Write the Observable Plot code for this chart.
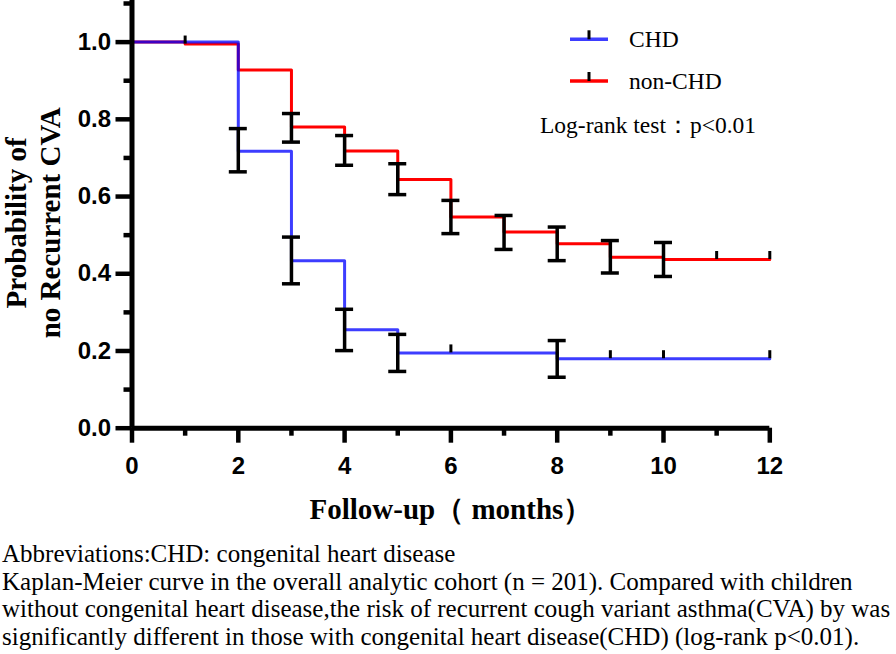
<!DOCTYPE html>
<html>
<head>
<meta charset="utf-8">
<script src="https://cdn.jsdelivr.net/npm/d3@7"></script>
<script src="https://cdn.jsdelivr.net/npm/@observablehq/plot@0.6"></script>
<style>
  body { margin: 0; background: #fff; }
  #wrap { position: relative; width: 896px; height: 654px; overflow: hidden; background: #fff; }
  #legend { position: absolute; left: 0; top: 0; }
  #caption { font-family: "Liberation Serif", "Times New Roman", serif; font-size: 25px; line-height: 27.5px; white-space: nowrap; padding-left: 2px; color: #000; }
</style>
</head>
<body>
<div id="wrap">
  <div id="chart"></div>
  <svg id="legend" width="896" height="150"></svg>
  <div id="caption"></div>
</div>
<script>
// ---------- data ----------
const seriesNames = ["CHD", "non-CHD"];
const seriesColors = ["#0000ff", "#ff0000"];
const seriesOpacity = [0.76, 1];

const chdTime = [0, 2, 3, 4, 5, 8, 12];
const chdSurv = [1.0, 0.717, 0.434, 0.255, 0.195, 0.180, 0.180];
const nonTime = [0, 1, 2, 3, 4, 5, 6, 7, 8, 9, 10, 12];
const nonSurv = [1.0, 0.995, 0.928, 0.780, 0.718, 0.644, 0.547, 0.508, 0.478, 0.443, 0.437, 0.437];

const chdErrTime = [2, 3, 4, 5, 8];
const chdErrLow  = [0.664, 0.374, 0.201, 0.147, 0.132];
const chdErrHigh = [0.776, 0.495, 0.308, 0.243, 0.227];
const nonErrTime = [3, 4, 5, 6, 7, 8, 9, 10];
const nonErrLow  = [0.741, 0.681, 0.605, 0.504, 0.463, 0.434, 0.402, 0.393];
const nonErrHigh = [0.815, 0.758, 0.685, 0.590, 0.551, 0.521, 0.486, 0.481];

const chdCensor = [6, 9, 10, 12];
const nonCensor = [1, 11, 12];

const xMajorTicks = [0, 2, 4, 6, 8, 10, 12];
const xMinorTicks = [1, 3, 5, 7, 9, 11];
const yMajorTicks = [0, 0.2, 0.4, 0.6, 0.8, 1.0];
const yMinorTicks = [0.1, 0.3, 0.5, 0.7, 0.9, 1.1];

const xTitle = "Follow-up（ months）";
const yTitle = "Probability of\nno Recurrent CVA";
const testText = "Log-rank test：p<0.01";
const captionLines = [
  "Abbreviations:CHD: congenital heart disease",
  "Kaplan-Meier curve in the overall analytic cohort (n = 201). Compared with children",
  "without congenital heart disease,the risk of recurrent cough variant asthma(CVA) by was",
  "significantly different in those with congenital heart disease(CHD) (log-rank p<0.01)."
];

// ---------- build tables ----------
const stepRows = (T, S) => T.map((t, i) => ({t, s: S[i]}));
const errRows = (T, L, H) => T.map((t, i) => ({t, lo: L[i], hi: H[i]}));
const survAt = (T, S, t) => S[Math.max(0, d3.bisectRight(T, t) - 1)];
const censorRows = (C, T, S) => C.map(t => ({t, s: survAt(T, S, t)}));

const chdRows = stepRows(chdTime, chdSurv);
const nonRows = stepRows(nonTime, nonSurv);
const errs = [...errRows(nonErrTime, nonErrLow, nonErrHigh), ...errRows(chdErrTime, chdErrLow, chdErrHigh)];
const censors = [...censorRows(nonCensor, nonTime, nonSurv), ...censorRows(chdCensor, chdTime, chdSurv)];

const sansBold = {fontFamily: "Liberation Sans, Arial, sans-serif", fontWeight: "bold", fontSize: 24};
const serifBold = {fontFamily: "Liberation Serif, Times New Roman, serif", fontWeight: "bold", fontSize: 29};
const ink = {stroke: "black", strokeWidth: 4.5};

const chart = Plot.plot({
  width: 896,
  height: 540,
  marginLeft: 131.5,
  marginRight: 126.7,
  marginTop: 3,
  marginBottom: 112.3,
  x: {domain: [0, 12]},
  y: {domain: [0, 1.1]},
  style: {background: "white", overflow: "visible", color: "black"},
  marks: [
    Plot.line(nonRows, {x: "t", y: "s", curve: "step-after", stroke: seriesColors[1], strokeOpacity: seriesOpacity[1], strokeWidth: 3}),
    Plot.line(chdRows, {x: "t", y: "s", curve: "step-after", stroke: seriesColors[0], strokeOpacity: seriesOpacity[0], strokeWidth: 3}),
    Plot.ruleX(errs, {x: "t", y1: "lo", y2: "hi", stroke: "black", strokeWidth: 3.5}),
    Plot.ruleY(errs, {y: "lo", x1: "t", x2: "t", insetLeft: -9, insetRight: -9, stroke: "black", strokeWidth: 3.5}),
    Plot.ruleY(errs, {y: "hi", x1: "t", x2: "t", insetLeft: -9, insetRight: -9, stroke: "black", strokeWidth: 3.5}),
    Plot.ruleX(censors, {x: "t", y1: "s", y2: "s", insetTop: -8, stroke: "black", strokeWidth: 3}),
    // axis lines
    Plot.ruleX([0], {stroke: "black", strokeWidth: 5, insetTop: -3}),
    Plot.ruleY([0], {stroke: "black", strokeWidth: 5}),
    // tick marks (major and minor)
    Plot.ruleX(xMajorTicks, {x: d => d, y1: 0, y2: 0, insetBottom: -15, ...ink}),
    Plot.ruleX(xMinorTicks, {x: d => d, y1: 0, y2: 0, insetBottom: -8, ...ink}),
    Plot.ruleY(yMajorTicks, {y: d => d, x1: 0, x2: 0, insetLeft: -16, ...ink}),
    Plot.ruleY(yMinorTicks, {y: d => d, x1: 0, x2: 0, insetLeft: -8, ...ink}),
    // tick labels
    Plot.axisX({ticks: xMajorTicks, tickSize: 0, tickPadding: 29, label: null, tickFormat: d => String(d), ...sansBold}),
    Plot.axisY({ticks: yMajorTicks, tickSize: 0, tickPadding: 21, label: null, tickFormat: d3.format(".1f"), ...sansBold}),
    // axis titles
    Plot.text([xTitle], {text: d => d, frameAnchor: "bottom", lineAnchor: "bottom", dy: 91, fill: "black", ...serifBold}),
    Plot.text([yTitle], {text: d => d, frameAnchor: "left", rotate: -90, lineAnchor: "top", lineHeight: 1.14, dx: -129, dy: 7, textAnchor: "middle", fill: "black", ...serifBold})
  ]
});
document.getElementById("chart").appendChild(chart);

// ---------- legend (overlay) ----------
const leg = d3.select("#legend");
const legFont = "Liberation Serif, Times New Roman, serif";
seriesNames.forEach((name, i) => {
  const y = 39.3 + i * 41.7;
  leg.append("line").attr("x1", 570).attr("x2", 608).attr("y1", y).attr("y2", y)
    .attr("stroke", seriesColors[i]).attr("stroke-opacity", seriesOpacity[i]).attr("stroke-width", 3.5);
  leg.append("line").attr("x1", 589).attr("x2", 589).attr("y1", y - 9).attr("y2", y)
    .attr("stroke", "black").attr("stroke-width", 3);
  leg.append("text").attr("x", 629).attr("y", y + 8).attr("font-family", legFont).attr("font-size", 23.5)
    .attr("fill", "black").text(name);
});
leg.append("text").attr("x", 540).attr("y", 133).attr("font-family", legFont).attr("font-size", 23.5)
  .attr("fill", "black").text(testText);

// ---------- caption ----------
const cap = d3.select("#caption");
captionLines.forEach(l => cap.append("div").text(l));
</script>
</body>
</html>
